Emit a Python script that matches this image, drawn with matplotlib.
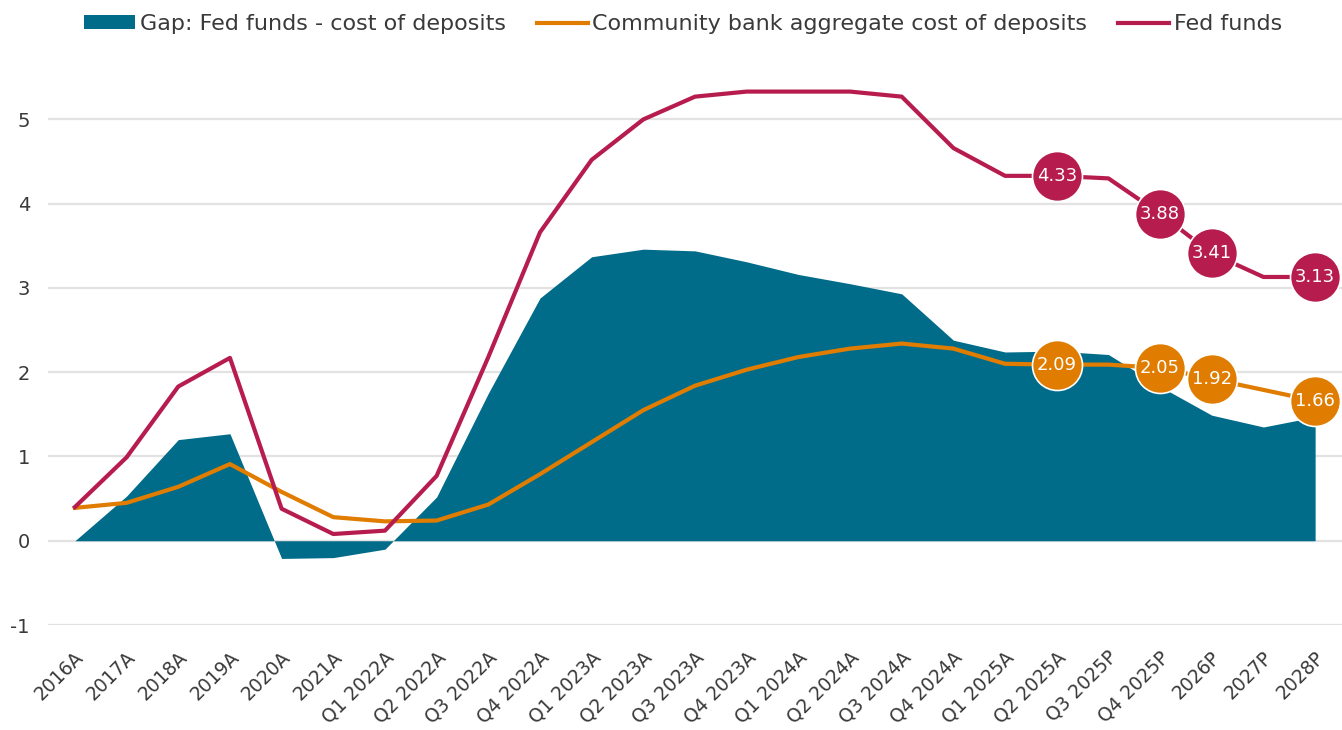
import matplotlib
matplotlib.use("Agg")
import matplotlib.pyplot as plt
from matplotlib.patches import Patch
from matplotlib.lines import Line2D
from matplotlib.transforms import ScaledTranslation
import numpy as np

plt.rcParams['font.family'] = ['DejaVu Sans']

categories = ['2016A', '2017A', '2018A', '2019A', '2020A', '2021A',
              'Q1 2022A', 'Q2 2022A', 'Q3 2022A', 'Q4 2022A',
              'Q1 2023A', 'Q2 2023A', 'Q3 2023A', 'Q4 2023A',
              'Q1 2024A', 'Q2 2024A', 'Q3 2024A', 'Q4 2024A',
              'Q1 2025A', 'Q2 2025A', 'Q3 2025P', 'Q4 2025P',
              '2026P', '2027P', '2028P']

fed_funds = [0.40, 0.99, 1.83, 2.17, 0.38, 0.08, 0.12, 0.77, 2.18, 3.66,
             4.52, 5.00, 5.27, 5.33, 5.33, 5.33, 5.27, 4.66, 4.33, 4.33,
             4.30, 3.88, 3.41, 3.13, 3.13]

cost_of_deposits = [0.39, 0.45, 0.64, 0.91, 0.58, 0.28, 0.23, 0.24, 0.43, 0.79,
                    1.17, 1.55, 1.84, 2.03, 2.18, 2.28, 2.34, 2.28, 2.10, 2.09,
                    2.09, 2.05, 1.92, 1.79, 1.66]

gap = [0.00, 0.53, 1.20, 1.27, -0.21, -0.20, -0.10, 0.52, 1.75, 2.88,
       3.37, 3.46, 3.44, 3.31, 3.16, 3.05, 2.93, 2.38, 2.24, 2.25,
       2.21, 1.83, 1.49, 1.35, 1.47]

labeled_points = ['Q2 2025A', 'Q4 2025P', '2026P', '2028P']

TEAL = '#006c89'
ORANGE = '#e07c00'
CRIMSON = '#b71c4e'
TEXT = '#3a3a3a'

fig = plt.figure(figsize=(13.42, 7.30), dpi=100)
ax = fig.add_axes([0.0358, 0.1438, 0.9642, 0.785])

x = np.arange(len(categories))

ax.fill_between(x, 0, gap, color=TEAL, linewidth=0, zorder=2)
ax.plot(x, cost_of_deposits, color=ORANGE, lw=3, zorder=3, solid_joinstyle='round')
ax.plot(x, fed_funds, color=CRIMSON, lw=3, zorder=4, solid_joinstyle='round')

# value bubbles on selected points
for name in labeled_points:
    i = categories.index(name)
    for series, col, z in ((fed_funds, CRIMSON, 6), (cost_of_deposits, ORANGE, 5)):
        v = series[i]
        ax.plot(i, v, 'o', ms=36, color=col, mec='white', mew=1.2, zorder=z)
        ax.text(i, v, f"{v:.2f}", color='white', fontsize=13,
                ha='center', va='center', zorder=z + 0.5)

ax.set_xlim(-0.52, 24.52)
ax.set_ylim(-1.0, 5.8)
ax.set_yticks([-1, 0, 1, 2, 3, 4, 5])
ax.set_yticklabels(['-1', '0', '1', '2', '3', '4', '5'])
ax.set_xticks(x)
ax.set_xticklabels(categories, rotation=45, ha='right', va='center',
                   rotation_mode='anchor')

ax.grid(axis='y', color='#e2e2e2', lw=1.6, zorder=1)
ax.set_axisbelow(True)
for s in ax.spines.values():
    s.set_visible(False)
ax.tick_params(axis='both', length=0, labelsize=14, labelcolor=TEXT)
ax.tick_params(axis='x', labelsize=13.5)
ax.tick_params(axis='y', pad=13)
ax.tick_params(axis='x', pad=21)

shift = ScaledTranslation(6 / 100, 0, fig.dpi_scale_trans)
for lab in ax.get_xticklabels():
    lab.set_transform(lab.get_transform() + shift)

handles = [Patch(facecolor=TEAL, edgecolor='none'),
           Line2D([0], [0], color=ORANGE, lw=3),
           Line2D([0], [0], color=CRIMSON, lw=3)]
labels = ['Gap: Fed funds - cost of deposits',
          'Community bank aggregate cost of deposits',
          'Fed funds']
leg = fig.legend(handles, labels, loc='upper center', bbox_to_anchor=(0.509, 1.008),
                 ncol=3, frameon=False, fontsize=16, handlelength=2.3,
                 handleheight=0.6, handletextpad=0.2, columnspacing=1.4)
for t in leg.get_texts():
    t.set_color(TEXT)

fig.savefig('out.png', dpi=100, facecolor='white')
